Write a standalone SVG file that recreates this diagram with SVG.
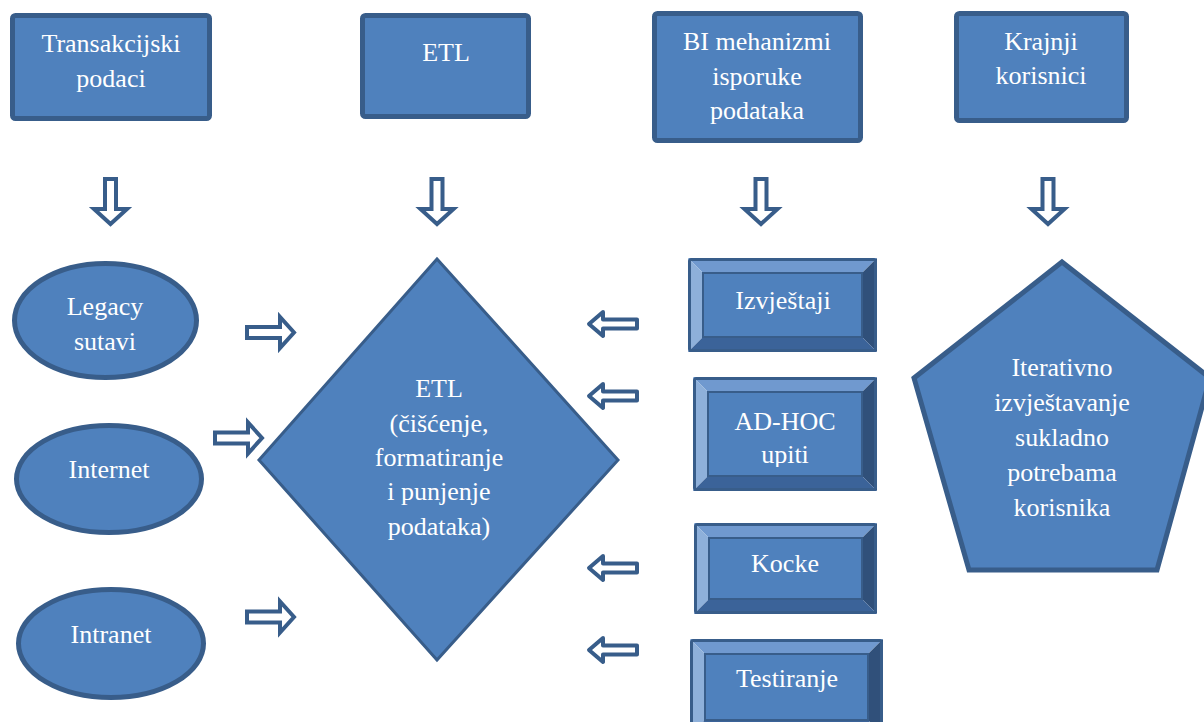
<svg xmlns="http://www.w3.org/2000/svg" width="1204" height="722" viewBox="0 0 1204 722">
<style>
.box{fill:#4f81bd;stroke:#385d8a;stroke-width:5}
.t{font-family:'Liberation Serif','Tinos','DejaVu Serif',serif;font-size:26px;fill:#ffffff;text-anchor:middle}
.arr{fill:#ffffff;stroke:#385d8a;stroke-width:4}
.bt{fill:#7099cf}
.bl{fill:#8eb0da}
.br{fill:#30507a}
.bb{fill:#3b6399}
.face{fill:#4f81bd;stroke:#385d8a;stroke-width:2}
.edge{fill:none;stroke:#385d8a;stroke-width:3}
</style>
<defs>
<path id="down" class="arr" d="M-5.5,2 H5.5 V32 H16.5 L0,47 L-16.5,32 H-5.5 Z" stroke-linejoin="miter"/>
<path id="right" class="arr" d="M2,-5.5 H35 V-15.5 L49,0 L35,15.5 V5.5 H2 Z"/>
<path id="left" class="arr" d="M-2,-4.5 H-36 V-12 L-50,0 L-36,12 V4.5 H-2 Z" stroke-linejoin="round"/>
<clipPath id="clipLegacy"><rect x="0" y="250" width="220" height="101"/></clipPath>
<clipPath id="clipAdhoc"><rect x="680" y="370" width="210" height="97"/></clipPath>
</defs>

<g id="node-transakcijski">
<rect class="box" x="12.5" y="15.5" width="197" height="103" rx="3"/>
<text class="t" font-family="Liberation Serif, serif" x="111" y="52">Transakcijski</text>
<text class="t" font-family="Liberation Serif, serif" x="111" y="87">podaci</text>
</g>
<g id="node-etl-top">
<rect class="box" x="362.5" y="15.5" width="166" height="101" rx="3"/>
<text class="t" x="446" y="61">ETL</text>
</g>
<g id="node-bi">
<rect class="box" x="654.5" y="13.5" width="206" height="127" rx="3"/>
<text class="t" x="757" y="50">BI mehanizmi</text>
<text class="t" x="757" y="85">isporuke</text>
<text class="t" x="757" y="119">podataka</text>
</g>
<g id="node-krajnji">
<rect class="box" x="956.5" y="13.5" width="170" height="107" rx="3"/>
<text class="t" x="1041" y="50">Krajnji</text>
<text class="t" x="1041" y="84">korisnici</text>
</g>

<g id="node-legacy">
<ellipse class="box" cx="105.5" cy="320.5" rx="91" ry="57"/>
<g clip-path="url(#clipLegacy)">
<text class="t" x="105" y="315">Legacy</text>
<text class="t" x="105" y="350">sutavi</text>
</g>
</g>
<g id="node-internet">
<ellipse class="box" cx="109" cy="479" rx="92.5" ry="53.5"/>
<text class="t" x="109" y="478">Internet</text>
</g>
<g id="node-intranet">
<ellipse class="box" cx="111" cy="643.5" rx="92.5" ry="54"/>
<text class="t" x="111" y="643">Intranet</text>
</g>

<g id="node-etl-diamond">
<polygon points="437,259 618,460 437,660 259,460" fill="#4f81bd" stroke="#385d8a" stroke-width="3"/>
<text class="t" x="439" y="397">ETL</text>
<text class="t" x="439" y="432">(čišćenje,</text>
<text class="t" x="439" y="466">formatiranje</text>
<text class="t" x="439" y="500">i punjenje</text>
<text class="t" x="439" y="535">podataka)</text>
</g>

<g id="node-izvjestaji">
<path class="bt" d="M688,258 H877 L862,273 H703 Z"/>
<path class="bl" d="M688,258 L703,273 V337 L688,352 Z"/>
<path class="br" d="M877,258 V352 L862,337 V273 Z"/>
<path class="bb" d="M688,352 L703,337 H862 L877,352 Z"/>
<rect class="face" x="703" y="273" width="159" height="64"/>
<rect class="edge" x="689.5" y="259.5" width="186" height="91" rx="2"/>
<text class="t" x="783" y="309">Izvještaji</text>
</g>
<g id="node-adhoc">
<path class="bt" d="M693,377 H877 L862,392 H708 Z"/>
<path class="bl" d="M693,377 L708,392 V476 L693,491 Z"/>
<path class="br" d="M877,377 V491 L862,476 V392 Z"/>
<path class="bb" d="M693,491 L708,476 H862 L877,491 Z"/>
<rect class="face" x="708" y="392" width="154" height="84"/>
<rect class="edge" x="694.5" y="378.5" width="181" height="111" rx="2"/>
<g clip-path="url(#clipAdhoc)">
<text class="t" x="785" y="430">AD-HOC</text>
<text class="t" x="785" y="463">upiti</text>
</g>
</g>
<g id="node-kocke">
<path class="bt" d="M694,523 H877 L862,538 H709 Z"/>
<path class="bl" d="M694,523 L709,538 V599 L694,614 Z"/>
<path class="br" d="M877,523 V614 L862,599 V538 Z"/>
<path class="bb" d="M694,614 L709,599 H862 L877,614 Z"/>
<rect class="face" x="709" y="538" width="153" height="61"/>
<rect class="edge" x="695.5" y="524.5" width="180" height="88" rx="2"/>
<text class="t" x="785" y="572">Kocke</text>
</g>
<g id="node-testiranje">
<path class="bt" d="M690,639 H883 L868,654 H705 Z"/>
<path class="bl" d="M690,639 L705,654 V720 L690,735 Z"/>
<path class="br" d="M883,639 V735 L868,720 V654 Z"/>
<path class="bb" d="M690,735 L705,720 H868 L883,735 Z"/>
<rect class="face" x="705" y="654" width="163" height="66"/>
<rect class="edge" x="691.5" y="640.5" width="190" height="93" rx="2"/>
<text class="t" x="787" y="687">Testiranje</text>
</g>

<g id="node-iterativno">
<polygon class="box" points="1062,262 1210,378 1157,570 969,570 914,378"/>
<text class="t" x="1062" y="376">Iterativno</text>
<text class="t" x="1062" y="411">izvještavanje</text>
<text class="t" x="1062" y="446">sukladno</text>
<text class="t" x="1062" y="481">potrebama</text>
<text class="t" x="1062" y="516">korisnika</text>
</g>

<g id="connectors">
<use href="#down" transform="translate(110.5,177)"/>
<use href="#down" transform="translate(437,177)"/>
<use href="#down" transform="translate(761,177)"/>
<use href="#down" transform="translate(1048,177)"/>
<use href="#right" transform="translate(245,332.5)"/>
<use href="#right" transform="translate(213,438)"/>
<use href="#right" transform="translate(245,617)"/>
<use href="#left" transform="translate(639,324)"/>
<use href="#left" transform="translate(639,396)"/>
<use href="#left" transform="translate(639,568)"/>
<use href="#left" transform="translate(639,650)"/>
</g>
</svg>
